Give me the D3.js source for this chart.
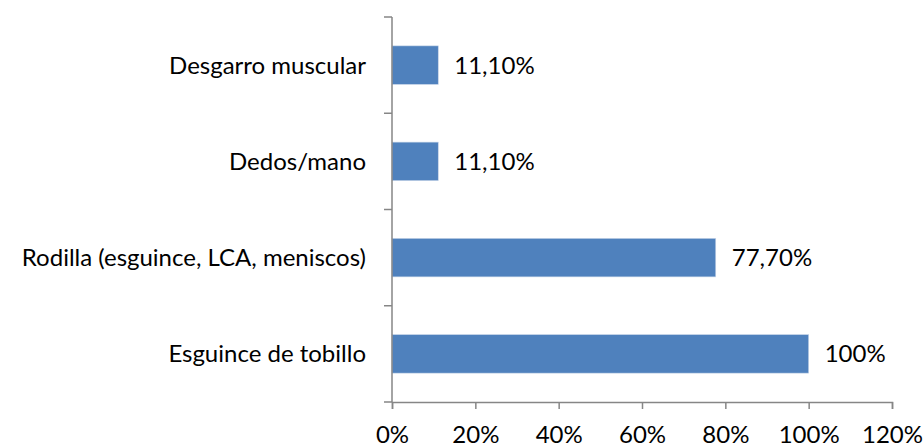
<!DOCTYPE html>
<html>
<head>
<meta charset="utf-8">
<script src="https://cdn.jsdelivr.net/npm/d3@7"></script>
<style>
  body { margin: 0; background: #fff; }
  svg { display: block; }
</style>
</head>
<body>
<div id="chart"></div>
<script>
// Data
const categories = ['Desgarro muscular', 'Dedos/mano', 'Rodilla (esguince, LCA, meniscos)', 'Esguince de tobillo'];
const values = [11.1, 11.1, 77.7, 100];
const valueLabels = ['11,10%', '11,10%', '77,70%', '100%'];
const xTicks = [0, 20, 40, 60, 80, 100, 120];

const width = 924, height = 447;
const margin = { top: 17, right: 32, bottom: 45, left: 392 };
const innerW = width - margin.left - margin.right;
const innerH = height - margin.top - margin.bottom;
const font = 'Lato, "Open Sans", sans-serif';
const fontSize = '24px';
const axisColor = '#868686';

const svg = d3.select('#chart').append('svg')
  .attr('width', width)
  .attr('height', height);

const g = svg.append('g')
  .attr('transform', `translate(${margin.left}, ${margin.top})`);

const x = d3.scaleLinear()
  .domain([0, 120])
  .range([0, innerW]);

const y = d3.scaleBand()
  .domain(categories)
  .range([0, innerH])
  .paddingInner(0.6)
  .paddingOuter(0.3);

// Band boundaries for the y-axis tick marks
const bandStep = innerH / categories.length;
const yBounds = d3.range(categories.length + 1).map(i => i * bandStep);

// Bars
g.selectAll('.bar')
  .data(categories)
  .enter()
  .append('rect')
  .attr('x', 0)
  .attr('y', d => y(d))
  .attr('width', (d, i) => x(values[i]))
  .attr('height', y.bandwidth())
  .attr('fill', '#4F81BD')
  .attr('stroke', '#c6d4e8')
  .attr('stroke-width', 0.6);

// Value labels
g.selectAll('.val')
  .data(categories)
  .enter()
  .append('text')
  .attr('x', (d, i) => x(values[i]) + 16)
  .attr('y', d => y(d) + y.bandwidth() / 2)
  .attr('dy', '0.35em')
  .style('font-family', font)
  .style('font-size', fontSize)
  .attr('fill', '#000')
  .text((d, i) => valueLabels[i]);

// Category labels
g.selectAll('.cat')
  .data(categories)
  .enter()
  .append('text')
  .attr('x', -26)
  .attr('y', d => y(d) + y.bandwidth() / 2)
  .attr('dy', '0.35em')
  .attr('text-anchor', 'end')
  .style('font-family', font)
  .style('font-size', fontSize)
  .attr('fill', '#000')
  .text(d => d);

// Y axis line and ticks
g.append('line')
  .attr('x1', 0).attr('x2', 0)
  .attr('y1', 0).attr('y2', innerH)
  .attr('stroke', axisColor)
  .attr('stroke-width', 1.5);

g.selectAll('.ytick')
  .data(yBounds)
  .enter()
  .append('line')
  .attr('x1', -8).attr('x2', 0)
  .attr('y1', d => d).attr('y2', d => d)
  .attr('stroke', axisColor)
  .attr('stroke-width', 1.5);

// X axis
const xAxis = g.append('g')
  .attr('transform', `translate(0, ${innerH})`)
  .call(d3.axisBottom(x)
    .tickValues(xTicks)
    .tickSize(7)
    .tickPadding(17)
    .tickFormat(d => d + '%'));

xAxis.select('.domain')
  .attr('stroke', axisColor)
  .attr('stroke-width', 1.5);
xAxis.selectAll('.tick line')
  .attr('stroke', axisColor)
  .attr('stroke-width', 1.5);
xAxis.selectAll('.tick text')
  .style('font-family', font)
  .style('font-size', fontSize)
  .attr('fill', '#000');
</script>
</body>
</html>
